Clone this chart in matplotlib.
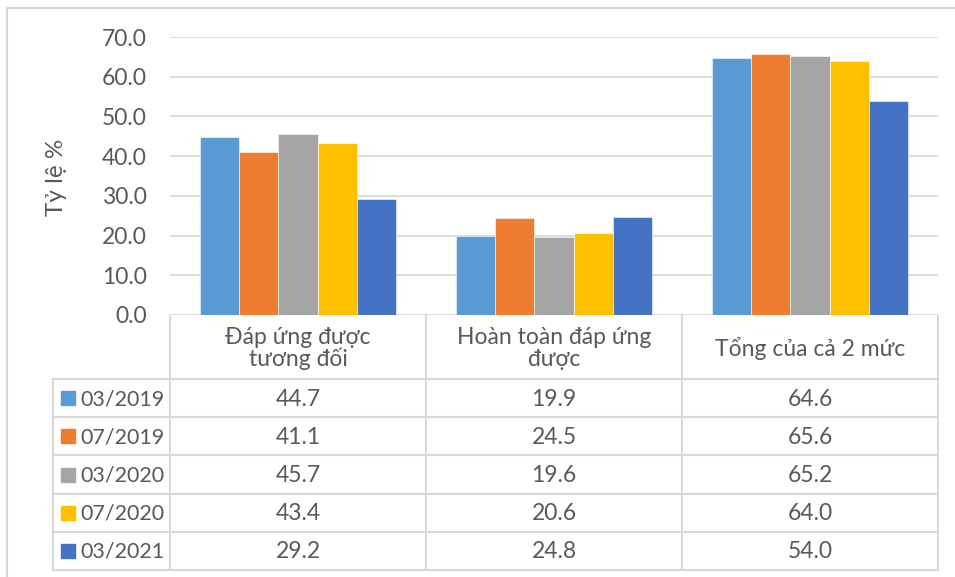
import matplotlib
matplotlib.use("Agg")
import matplotlib.pyplot as plt
import numpy as np

categories = ["Đáp ứng được\ntương đối", "Hoàn toàn đáp ứng\nđược", "Tổng của cả 2 mức"]
series_names = ["03/2019", "07/2019", "03/2020", "07/2020", "03/2021"]
v_2019_03 = [44.7, 19.9, 64.6]
v_2019_07 = [41.1, 24.5, 65.6]
v_2020_03 = [45.7, 19.6, 65.2]
v_2020_07 = [43.4, 20.6, 64.0]
v_2021_03 = [29.2, 24.8, 54.0]
series_values = [v_2019_03, v_2019_07, v_2020_03, v_2020_07, v_2021_03]
colors = ["#5B9BD5", "#ED7D31", "#A5A5A5", "#FFC000", "#4472C4"]
yticks = [0, 10, 20, 30, 40, 50, 60, 70]
ylabel = "Tỷ lệ %"

FONT = ["Lato", "Noto Sans", "DejaVu Sans"]
plt.rcParams['font.family'] = FONT
TXT = "#595959"
GRID = "#D9D9D9"
FS = 16.5

W, H = 955, 577
fig = plt.figure(figsize=(W / 100, H / 100), dpi=100)

# overlay axes in pixel coordinates for table and border
ov = fig.add_axes([0, 0, 1, 1])
ov.set_xlim(0, W)
ov.set_ylim(H, 0)
ov.axis("off")

# plot area in pixels
px_l, px_r, px_t, px_b = 170, 938, 37, 315
ax = fig.add_axes([px_l / W, 1 - px_b / H, (px_r - px_l) / W, (px_b - px_t) / H])
ax.set_xlim(-0.5, len(categories) - 0.5)
ax.set_ylim(0, 70)
ax.set_yticks(yticks)
ax.set_yticklabels([f"{t:.1f}" for t in yticks], color=TXT, fontsize=FS)
ax.tick_params(axis="y", length=0, pad=16.5)
ax.set_xticks([])
for s in ax.spines.values():
    s.set_visible(False)
ax.grid(axis="y", color=GRID, linewidth=1.3)
ax.set_axisbelow(True)
ax.patch.set_alpha(0)

n = len(series_names)
bw = 1.0 / (n + 1.5)
x = np.arange(len(categories))
for i, (vals, c) in enumerate(zip(series_values, colors)):
    ax.bar(x + (i - (n - 1) / 2) * bw, vals, width=bw, color=c,
           edgecolor="white", linewidth=0.4, zorder=3)

ax.set_ylabel(ylabel, color=TXT, fontsize=17.5)
ax.yaxis.set_label_coords((67 - px_l) / (px_r - px_l), (px_b - 177) / (px_b - px_t))

# outer border (top and left visible)
ov.plot([7, W], [8, 8], color=GRID, lw=1.5)
ov.plot([7, 7], [8, H], color=GRID, lw=1.5)

# table
col_edges = [170, 426, 682, 938]
leg_l = 53
hdr_t, hdr_b = 316, 379
row_h = (570 - 379) / n
row_edges = [hdr_b + k * row_h for k in range(n + 1)]
lc = GRID
lw = 1.5
for xe in col_edges:
    ov.plot([xe, xe], [hdr_t, row_edges[-1]], color=lc, lw=lw)
ov.plot([leg_l, leg_l], [hdr_b, row_edges[-1]], color=lc, lw=lw)
for k, ye in enumerate(row_edges):
    ov.plot([leg_l, col_edges[-1]], [ye, ye], color=lc, lw=lw)

for j, cat in enumerate(categories):
    cx = (col_edges[j] + col_edges[j + 1]) / 2
    ov.text(cx, (hdr_t + hdr_b) / 2 + 1, cat, ha="center", va="center",
            color=TXT, fontsize=FS, linespacing=1.0)

for i, (name, vals, c) in enumerate(zip(series_names, series_values, colors)):
    cy = (row_edges[i] + row_edges[i + 1]) / 2
    ov.add_patch(plt.Rectangle((61, cy - 7), 14, 14, color=c))
    ov.text(80, cy + 1, name, ha="left", va="center", color=TXT, fontsize=15.5)
    for j, v in enumerate(vals):
        cx = (col_edges[j] + col_edges[j + 1]) / 2
        ov.text(cx, cy + 1, f"{v:.1f}", ha="center", va="center", color=TXT, fontsize=FS)

fig.savefig("out.png", dpi=100)
